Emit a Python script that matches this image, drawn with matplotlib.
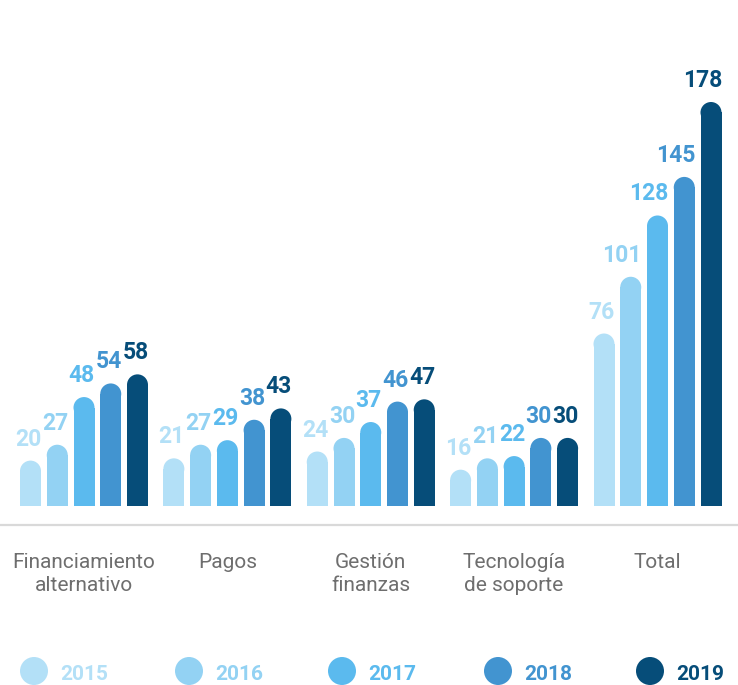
import numpy as np
import matplotlib.pyplot as plt
from matplotlib.patches import Ellipse

plt.rcParams['font.family'] = ['Roboto', 'DejaVu Sans']

categories = ["Financiamiento\nalternativo", "Pagos", "Gestión\nfinanzas",
              "Tecnología\nde soporte", "Total"]
years = ["2015", "2016", "2017", "2018", "2019"]
values = {
    "2015": [20, 21, 24, 16, 76],
    "2016": [27, 27, 30, 21, 101],
    "2017": [48, 29, 37, 22, 128],
    "2018": [54, 38, 46, 30, 145],
    "2019": [58, 43, 47, 30, 178],
}
colors = ["#b3e0f7", "#93d2f3", "#5bbaee", "#4294d0", "#064d79"]

W, H = 738, 685
fig = plt.figure(figsize=(W / 100, H / 100), dpi=100)

# pixel based layout
k = 404 / 178          # px per unit
base_px = 506          # bar baseline (from top)
line_px = 525          # grey axis line (from top)
top_px = 40
ax = fig.add_axes([0, (H - line_px) / H, 1, (line_px - top_px) / H])
ax.set_xlim(0, W)
ax.set_ylim(-(line_px - base_px) / k, (base_px - top_px) / k)

centers = np.linspace(84, 657.5, len(categories))
bw = 21
step = 26.75
ry = (bw / 2) / k

for i, (yr, col) in enumerate(zip(years, colors)):
    xs = centers + (i - 2) * step
    vals = np.array(values[yr])
    ax.bar(xs, vals - ry, width=bw, bottom=0, color=col, linewidth=0)
    for x, v in zip(xs, vals):
        ax.add_patch(Ellipse((x, v - ry), bw, 2 * ry, color=col, linewidth=0))
        ax.text(x + bw / 2 + 0.5, v + 15 / k, str(v), ha='right', va='baseline',
                fontsize=16.5, fontweight='bold', color=col)

for s in ['top', 'right', 'left']:
    ax.spines[s].set_visible(False)
ax.spines['bottom'].set_color('#d9d9d9')
ax.spines['bottom'].set_linewidth(1.6)
ax.set_yticks([])
ax.set_xticks(centers, categories)
ax.tick_params(axis='x', length=0, pad=20, labelsize=15, labelcolor='#6e6e6e')
for lab in ax.get_xticklabels():
    lab.set_linespacing(1.25)

# legend row
lx = [34, 189, 342, 498, 650]
ly = (H - 671) / H
for x, yr, col in zip(lx, years, colors):
    fig.add_artist(Ellipse((x / W, ly), 28 / W, 28 / H, color=col,
                           transform=fig.transFigure, linewidth=0))
    fig.text((x + 26) / W, (H - 680) / H, yr, ha='left', va='baseline',
             fontsize=15, fontweight='bold', color=col)

fig.savefig("out.png", dpi=100)
